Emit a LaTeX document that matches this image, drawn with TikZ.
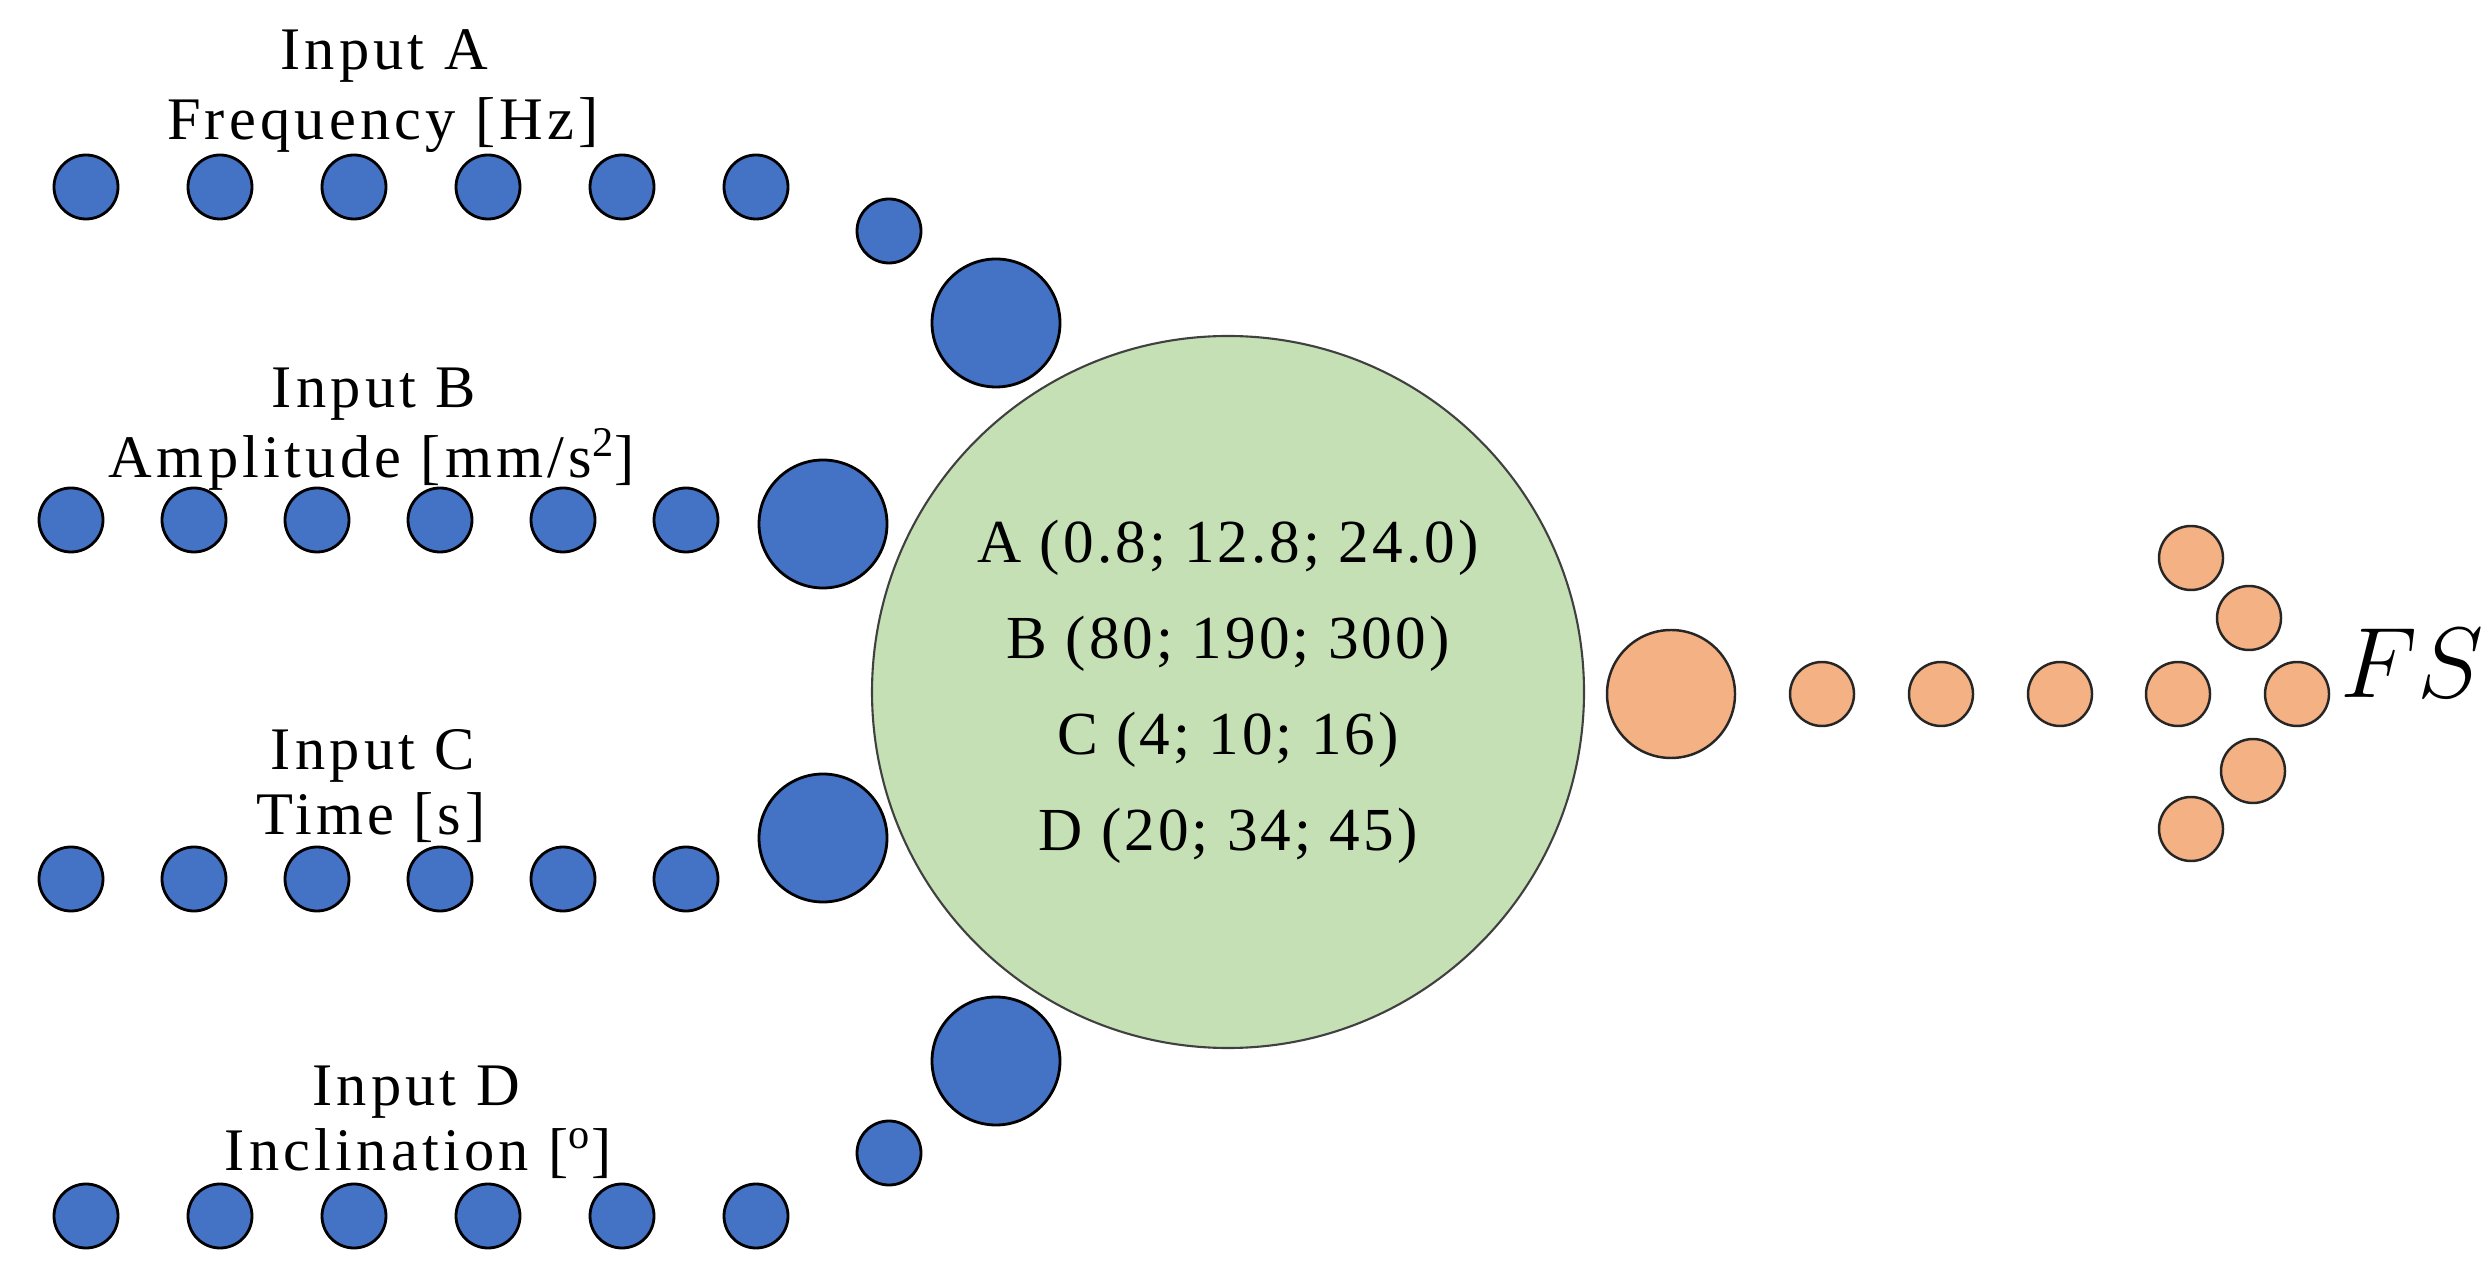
\RequirePackage{fix-cm}
\documentclass[tikz,border=0pt]{standalone}
\usepackage{ amsmath }
\usepackage{ fontspec }
\setmainfont{Liberation Serif}
\newfontfamily\lblfont[LetterSpace=7]{Liberation Serif}
\newfontfamily\hubfont[LetterSpace=5]{Liberation Serif}
\usepackage{ tikz }
\usetikzlibrary{ positioning }
\definecolor{inblue}{HTML}{4472C4}
\definecolor{hubgreen}{HTML}{C5E0B4}
\definecolor{outorange}{HTML}{F4B183}

\begin{document}
\begin{tikzpicture}[
        indot/.style={circle, draw=black, line width=0.8pt, fill=inblue, minimum size=6.4mm, inner sep=0pt},
        injoin/.style={indot, minimum size=12.8mm},
        hub/.style={circle, draw=black!75, line width=0.6pt, fill=hubgreen, minimum size=71.2mm, inner sep=0pt, align=center, font=\hubfont\fontsize{17.4}{27.3}\selectfont},
        outdot/.style={circle, draw=black!85, line width=0.7pt, fill=outorange, minimum size=6.4mm, inner sep=0pt},
        outjoin/.style={outdot, minimum size=12.8mm},
        lbl/.style={anchor=base, inner sep=0pt, font=\lblfont\fontsize{17.2}{19.9}\selectfont}
    ]
        \useasboundingbox (0,0) rectangle (24.92,12.73);

        \node[lbl] (nameA) at (3.84,12.03) {Input A};
        \node[lbl] (unitA) at (3.83,11.33) {Frequency [Hz]};
        \node[lbl] (nameB) at (3.74,8.65) {Input B};
        \node[lbl] (unitB) at (3.72,7.95) {Amplitude [mm/s\textsuperscript{2}]};
        \node[lbl] (nameC) at (3.73,5.03) {Input C};
        \node[lbl] (unitC) at (3.71,4.38) {Time [s]};
        \node[lbl] (nameD) at (4.16,1.68) {Input D};
        \node[lbl] (unitD) at (4.18,1.03) {Inclination [\textsuperscript{o}]};

        \node[indot] (inA1) at (0.86,10.86) {};
        \node[indot] (inA2) at (2.20,10.86) {};
        \node[indot] (inA3) at (3.54,10.86) {};
        \node[indot] (inA4) at (4.88,10.86) {};
        \node[indot] (inA5) at (6.22,10.86) {};
        \node[indot] (inA6) at (7.56,10.86) {};
        \node[indot] (linkA) at (8.89,10.42) {};
        \node[injoin] (joinA) at (9.96,9.50) {};

        \node[indot] (inB1) at (0.71,7.53) {};
        \node[indot] (inB2) at (1.94,7.53) {};
        \node[indot] (inB3) at (3.17,7.53) {};
        \node[indot] (inB4) at (4.40,7.53) {};
        \node[indot] (inB5) at (5.63,7.53) {};
        \node[indot] (inB6) at (6.86,7.53) {};
        \node[injoin] (joinB) at (8.23,7.49) {};

        \node[indot] (inC1) at (0.71,3.94) {};
        \node[indot] (inC2) at (1.94,3.94) {};
        \node[indot] (inC3) at (3.17,3.94) {};
        \node[indot] (inC4) at (4.40,3.94) {};
        \node[indot] (inC5) at (5.63,3.94) {};
        \node[indot] (inC6) at (6.86,3.94) {};
        \node[injoin] (joinC) at (8.23,4.35) {};

        \node[indot] (inD1) at (0.86,0.57) {};
        \node[indot] (inD2) at (2.20,0.57) {};
        \node[indot] (inD3) at (3.54,0.57) {};
        \node[indot] (inD4) at (4.88,0.57) {};
        \node[indot] (inD5) at (6.22,0.57) {};
        \node[indot] (inD6) at (7.56,0.57) {};
        \node[indot] (linkD) at (8.89,1.20) {};
        \node[injoin] (joinD) at (9.96,2.12) {};

        \node[hub] (core) at (12.28,5.81) {A (0.8; 12.8; 24.0)\\B (80; 190; 300)\\C (4; 10; 16)\\D (20; 34; 45)};

        \node[outjoin] (out) at (16.71,5.79) {};
        \node[outdot] (out1) at (18.22,5.79) {};
        \node[outdot] (out2) at (19.41,5.79) {};
        \node[outdot] (out3) at (20.60,5.79) {};
        \node[outdot] (out4) at (21.78,5.79) {};
        \node[outdot] (tip) at (22.97,5.79) {};
        \node[outdot] (barbU1) at (21.91,7.15) {};
        \node[outdot] (barbU2) at (22.49,6.55) {};
        \node[outdot] (barbL2) at (22.53,5.02) {};
        \node[outdot] (barbL1) at (21.91,4.44) {};

        \node[anchor=base west, inner sep=0pt, font=\fontsize{28.5}{34}\selectfont] (fs) at (23.40,5.75) {$FS$};
    \end{tikzpicture}
\end{document}
